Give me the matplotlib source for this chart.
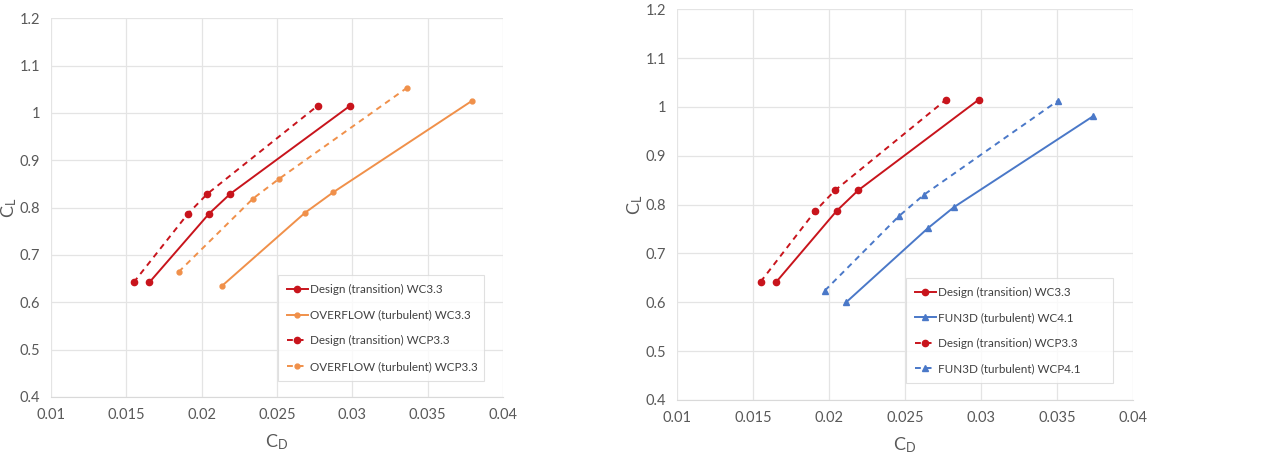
import matplotlib.pyplot as plt

# drag polar data, CD vs CL
design_wc_cd = [0.01653, 0.02049, 0.0219, 0.02985]
design_wc_cl = [0.642, 0.787, 0.829, 1.015]
design_wcp_cd = [0.01549, 0.01909, 0.02038, 0.0277]
design_wcp_cl = [0.642, 0.787, 0.829, 1.015]

overflow_wc_cd = [0.02133, 0.02686, 0.02872, 0.03792]
overflow_wc_cl = [0.634, 0.789, 0.832, 1.025]
overflow_wcp_cd = [0.01847, 0.02341, 0.02511, 0.03363]
overflow_wcp_cl = [0.664, 0.819, 0.860, 1.053]

fun3d_wc_cd = [0.02112, 0.02649, 0.02822, 0.03737]
fun3d_wc_cl = [0.600, 0.7515, 0.795, 0.981]
fun3d_wcp_cd = [0.01972, 0.02458, 0.02625, 0.03507]
fun3d_wcp_cl = [0.624, 0.776, 0.8205, 1.013]

xticks = [0.01, 0.015, 0.02, 0.025, 0.03, 0.035, 0.04]
xtick_labels = ['0.01', '0.015', '0.02', '0.025', '0.03', '0.035', '0.04']
yticks = [0.4, 0.5, 0.6, 0.7, 0.8, 0.9, 1.0, 1.1, 1.2]
ytick_labels = ['0.4', '0.5', '0.6', '0.7', '0.8', '0.9', '1', '1.1', '1.2']

red = '#C8141C'
orange = '#F0904A'
blue = '#4A78C8'
txt = '#595959'
grid = '#E4E4E4'

plt.rcParams['font.family'] = ['Lato', 'DejaVu Sans']

fig = plt.figure(figsize=(12.61, 4.54), dpi=100)
ax1 = fig.add_axes([0.0404, 0.1256, 0.3585, 0.8344])
ax2 = fig.add_axes([0.537, 0.119, 0.3615, 0.8605])


def style(ax):
    ax.set_xlim(0.01, 0.04)
    ax.set_ylim(0.4, 1.2)
    ax.set_xticks(xticks)
    ax.set_xticklabels(xtick_labels)
    ax.set_yticks(yticks)
    ax.set_yticklabels(ytick_labels)
    ax.tick_params(length=0, labelsize=10.5, colors=txt, pad=8)
    ax.grid(True, color=grid, linewidth=0.9)
    ax.set_axisbelow(True)
    for s in ['top', 'right', 'left']:
        ax.spines[s].set_visible(False)
    ax.spines['bottom'].set_color('#D9D9D9')
    ax.set_xlabel(r'$\mathregular{C_D}$', fontsize=13, color=txt, labelpad=7)
    ax.set_ylabel(r'$\mathregular{C_L}$', fontsize=13, color=txt, labelpad=0)


def legend(ax):
    leg = ax.legend(loc='lower left', bbox_to_anchor=(0.502, 0.043, 0.455, 0.2),
                    mode='expand', fontsize=8.4,
                    frameon=True, fancybox=False, handlelength=1.8,
                    handletextpad=0.2, labelspacing=1.25, borderpad=0.75,
                    borderaxespad=0)
    leg.get_frame().set_edgecolor('#D9D9D9')
    leg.get_frame().set_linewidth(0.8)
    for t in leg.get_texts():
        t.set_color('#404040')


# left: design vs OVERFLOW
ax1.plot(design_wc_cd, design_wc_cl, '-', color=red, marker='o', ms=4.5, lw=1.4,
         label='Design (transition) WC3.3')
ax1.plot(overflow_wc_cd, overflow_wc_cl, '-', color=orange, marker='o', ms=3.5, lw=1.4,
         label='OVERFLOW (turbulent) WC3.3')
ax1.plot(design_wcp_cd, design_wcp_cl, '--', color=red, marker='o', ms=4.5, lw=1.4,
         dashes=(3, 2.5), label='Design (transition) WCP3.3')
ax1.plot(overflow_wcp_cd, overflow_wcp_cl, '--', color=orange, marker='o', ms=3.5, lw=1.4,
         dashes=(3, 2.5), label='OVERFLOW (turbulent) WCP3.3')
style(ax1)
legend(ax1)

# right: design vs FUN3D
ax2.plot(design_wc_cd, design_wc_cl, '-', color=red, marker='o', ms=4.5, lw=1.4,
         label='Design (transition) WC3.3')
ax2.plot(fun3d_wc_cd, fun3d_wc_cl, '-', color=blue, marker='^', ms=4, lw=1.4,
         label='FUN3D (turbulent) WC4.1')
ax2.plot(design_wcp_cd, design_wcp_cl, '--', color=red, marker='o', ms=4.5, lw=1.4,
         dashes=(3, 2.5), label='Design (transition) WCP3.3')
ax2.plot(fun3d_wcp_cd, fun3d_wcp_cl, '--', color=blue, marker='^', ms=4, lw=1.4,
         dashes=(3, 2.5), label='FUN3D (turbulent) WCP4.1')
style(ax2)
legend(ax2)

fig.savefig('out.png', dpi=100)
